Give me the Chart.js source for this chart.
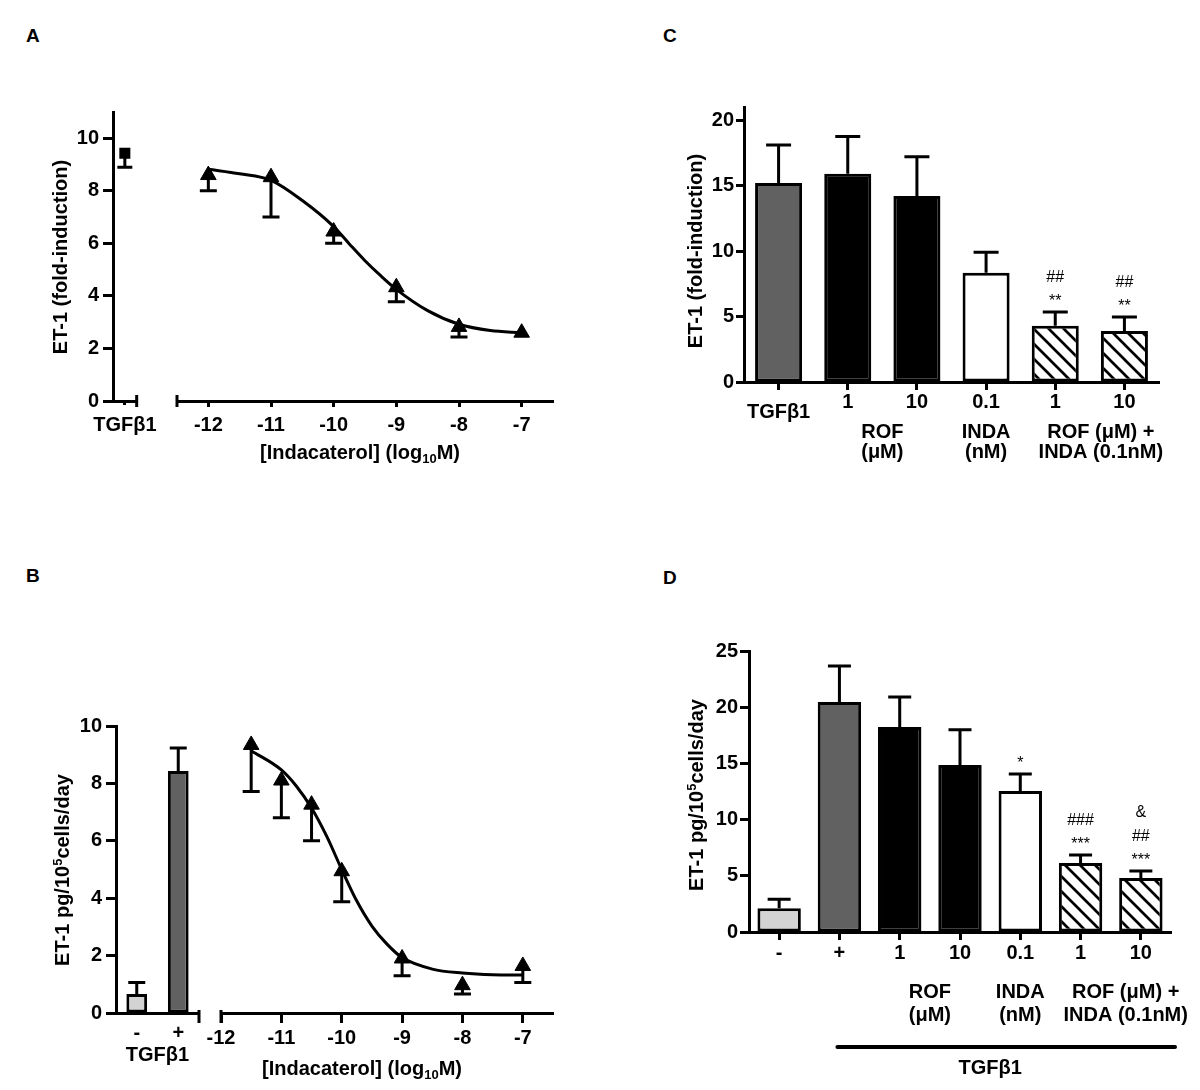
<!DOCTYPE html>
<html><head><meta charset="utf-8">
<script src="https://cdn.jsdelivr.net/npm/chart.js@4.4.1/dist/chart.umd.min.js"></script>
<style>
html,body{margin:0;padding:0;background:#fff;}
#page{position:relative;width:1200px;height:1090px;overflow:hidden;background:#fff;}
.cv{position:absolute;}
.lbl{position:absolute;font:bold 19px "Liberation Sans",Arial,sans-serif;color:#000;line-height:19px;}
</style></head><body>
<div id="page">
  <div class="lbl" style="left:26px;top:26px">A</div>
  <div class="lbl" style="left:663px;top:26px">C</div>
  <div class="lbl" style="left:26px;top:566px">B</div>
  <div class="lbl" style="left:663px;top:568px">D</div>
  <div class="cv" style="left:0px;top:0px;width:175px;height:480px"><canvas id="a1"></canvas></div>
  <div class="cv" style="left:170px;top:0px;width:420px;height:480px"><canvas id="a2"></canvas></div>
  <div class="cv" style="left:0px;top:600px;width:215px;height:490px"><canvas id="b1"></canvas></div>
  <div class="cv" style="left:200px;top:600px;width:400px;height:490px"><canvas id="b2"></canvas></div>
  <div class="cv" style="left:600px;top:0px;width:600px;height:480px"><canvas id="c1"></canvas></div>
  <div class="cv" style="left:600px;top:580px;width:600px;height:510px"><canvas id="d1"></canvas></div>
</div>
<script>
// ---------- Panel A ----------
const aCtrlLabels = ['TGFβ1'];
const aCtrlMean = [9.43];
const aCtrlSem = [0.53];
const aDose = [-12, -11, -10, -9, -8, -7];
const aMean = [8.6, 8.52, 6.45, 4.33, 2.82, 2.6];
const aSem = [0.6, 1.52, 0.45, 0.55, 0.38, 0];
const aFitX = [-12, -11.5, -11, -10.5, -10, -9.75, -9.5, -9.25, -9, -8.5, -8, -7.5, -7];
const aFitY = [8.82, 8.65, 8.4, 7.63, 6.64, 5.98, 5.34, 4.77, 4.25, 3.44, 2.92, 2.68, 2.6];
const aYTicks = [0, 2, 4, 6, 8, 10];
const aXTicks = [-12, -11, -10, -9, -8, -7];
// ---------- Panel B ----------
const bCtrlLabels = ['-', '+'];
const bCtrlMean = [0.66, 8.43];
const bCtrlSem = [0.4, 0.8];
const bDose = [-11.5, -11, -10.5, -10, -9, -8, -7];
const bMean = [9.34, 8.1, 7.26, 4.94, 1.9, 0.97, 1.64];
const bSem = [1.62, 1.3, 1.26, 1.06, 0.6, 0.31, 0.58];
const bFitX = [-11.5, -11, -10.75, -10.5, -10.25, -10, -9.75, -9.5, -9.25, -9, -8.5, -8, -7.5, -7];
const bFitY = [9.14, 8.47, 7.9, 7.14, 6.16, 5.0, 3.9, 3.03, 2.4, 1.93, 1.53, 1.39, 1.33, 1.32];
const bYTicks = [0, 2, 4, 6, 8, 10];
const bXTicks = [-12, -11, -10, -9, -8, -7];
// ---------- Panel C ----------
const cLabels = ['TGFβ1', '1', '10', '0.1', '1', '10'];
const cMean = [15.2, 15.9, 14.2, 8.35, 4.3, 3.9];
const cSem = [2.9, 2.85, 3.0, 1.55, 1.05, 1.07];
const cSig = [[], [], [], [], ['**', '##'], ['**', '##']];
const cGroupText = [['ROF', '(μM)'], ['INDA', '(nM)'], ['ROF (μM) +', 'INDA (0.1nM)']];
const cGroupCats = [[1, 2], [3, 3], [4, 5]];
const cYTicks = [0, 5, 10, 15, 20];
// ---------- Panel D ----------
const dLabels = ['-', '+', '1', '10', '0.1', '1', '10'];
const dMean = [2.12, 20.46, 18.24, 14.85, 12.55, 6.14, 4.8];
const dSem = [0.8, 3.2, 2.66, 3.15, 1.5, 0.72, 0.63];
const dSig = [[], [], [], [], ['*'], ['***', '###'], ['***', '##', '&']];
const dGroupText = [['ROF', '(μM)'], ['INDA', '(nM)'], ['ROF (μM) +', 'INDA (0.1nM)']];
const dGroupCats = [[2, 3], [4, 4], [5, 6]];
const dBracketText = 'TGFβ1';
const dBracketCats = [1, 6];
const dYTicks = [0, 5, 10, 15, 20, 25];

// ---------- styles ----------
const FAM = '"Liberation Sans", Arial, Helvetica, sans-serif';
const LIGHT = '#d3d3d3', DARK = '#616161', BLACK = '#000000', WHITE = '#ffffff';
Chart.defaults.font.family = FAM;
Chart.defaults.font.size = 20;
Chart.defaults.font.weight = 'bold';
Chart.defaults.color = '#000';

function hatch() {
  const s = 15, c = document.createElement('canvas');
  c.width = s; c.height = s;
  const g = c.getContext('2d');
  g.fillStyle = '#fff'; g.fillRect(0, 0, s, s);
  g.strokeStyle = '#000'; g.lineWidth = 2.7;
  g.beginPath();
  g.moveTo(-3, -3); g.lineTo(s + 3, s + 3);
  g.moveTo(-3, s - 3); g.lineTo(3, s + 3);
  g.moveTo(s - 3, -3); g.lineTo(s + 3, 3);
  g.stroke();
  return g.createPattern(c, 'repeat');
}
const HATCH = hatch();

function base(t, r, l) {
  return {
    responsive: true, maintainAspectRatio: false, animation: false, devicePixelRatio: 1,
    events: [],
    layout: { autoPadding: false, padding: { top: t, right: r, left: l, bottom: 0 } },
    plugins: { legend: { display: false }, tooltip: { enabled: false } }
  };
}
function yScale(min, max, ticks, width, tickLen, pad, show) {
  return {
    type: 'linear', min, max, display: show,
    afterFit(s) { s.width = width; },
    afterBuildTicks(s) { s.ticks = ticks.map(v => ({ value: v })); },
    ticks: { padding: pad, callback: v => String(v), font: { size: 20, weight: 'bold' }, color: '#000' },
    grid: { display: true, drawOnChartArea: false, drawTicks: true, tickLength: tickLen, tickWidth: 3, tickColor: '#000' },
    border: { display: true, width: 3, color: '#000' }
  };
}
function xCat(height, tickLen, pad, drawTicks, cb) {
  return {
    type: 'category', offset: true,
    afterFit(s) { s.height = height; },
    ticks: { padding: pad, autoSkip: false, maxRotation: 0, minRotation: 0,
      callback: cb || function (v) { return this.getLabelForValue(v); },
      font: { size: 20, weight: 'bold' }, color: '#000' },
    grid: { display: true, offset: false, drawOnChartArea: false, drawTicks, tickLength: tickLen, tickWidth: 3, tickColor: '#000' },
    border: { display: true, width: 3, color: '#000' }
  };
}
function xLin(min, max, ticks, height, tickLen, pad) {
  return {
    type: 'linear', min, max,
    afterFit(s) { s.height = height; },
    afterBuildTicks(s) { s.ticks = ticks.map(v => ({ value: v })); },
    ticks: { padding: pad, autoSkip: false, maxRotation: 0, minRotation: 0, callback: v => String(v),
      font: { size: 20, weight: 'bold' }, color: '#000' },
    grid: { display: true, drawOnChartArea: false, drawTicks: true, tickLength: tickLen, tickWidth: 3, tickColor: '#000' },
    border: { display: true, width: 3, color: '#000' }
  };
}
function errBars(chart, di, errs, dir, cap) {
  const meta = chart.getDatasetMeta(di), ys = chart.scales.y, ctx = chart.ctx;
  ctx.save(); ctx.strokeStyle = '#000'; ctx.lineWidth = 3; ctx.lineCap = 'butt';
  meta.data.forEach((el, i) => {
    const e = errs[i]; if (!e) return;
    const v = meta.controller.getParsed(i).y;
    const y0 = ys.getPixelForValue(v), y1 = ys.getPixelForValue(v + dir * e);
    ctx.beginPath();
    ctx.moveTo(el.x, y0); ctx.lineTo(el.x, y1);
    ctx.moveTo(el.x - cap / 2, y1); ctx.lineTo(el.x + cap / 2, y1);
    ctx.stroke();
  });
  ctx.restore();
}
function axisCap(chart, side, up, down) {
  const a = chart.chartArea, ctx = chart.ctx, x = side === 'left' ? a.left : a.right;
  ctx.save(); ctx.strokeStyle = '#000'; ctx.lineWidth = 3;
  ctx.beginPath(); ctx.moveTo(x, a.bottom - up); ctx.lineTo(x, a.bottom + down); ctx.stroke();
  ctx.restore();
}
// rich text: parts [[text, mode]] mode 0 normal, 1 superscript, -1 subscript; (x,y) = visual centre
function richText(ctx, parts, x, y, rot, size) {
  ctx.save();
  ctx.translate(x, y); if (rot) ctx.rotate(rot);
  ctx.fillStyle = '#000'; ctx.textBaseline = 'alphabetic'; ctx.textAlign = 'left';
  const fonts = parts.map(p => 'bold ' + (p[1] ? Math.round(size * 0.66) : size) + 'px ' + FAM);
  let total = 0;
  const ws = parts.map((p, i) => { ctx.font = fonts[i]; const w = ctx.measureText(p[0]).width; total += w; return w; });
  let cx = -total / 2;
  const b = size * 0.36;
  parts.forEach((p, i) => {
    ctx.font = fonts[i];
    const dy = p[1] === 1 ? -size * 0.38 : p[1] === -1 ? size * 0.2 : 0;
    ctx.fillText(p[0], cx, b + dy); cx += ws[i];
  });
  ctx.restore();
}
function centerText(ctx, t, x, y, font) {
  ctx.save(); ctx.fillStyle = '#000'; ctx.font = font || ('bold 20px ' + FAM);
  ctx.textAlign = 'center'; ctx.textBaseline = 'middle'; ctx.fillText(t, x, y); ctx.restore();
}
function sigMarks(chart, means, sems, sig) {
  const xs = chart.scales.x, ys = chart.scales.y, ctx = chart.ctx;
  ctx.save(); ctx.fillStyle = '#000'; ctx.font = '16px ' + FAM; ctx.textAlign = 'center'; ctx.textBaseline = 'alphabetic';
  sig.forEach((lines, i) => {
    const x = xs.getPixelForValue(i), capY = ys.getPixelForValue(means[i] + sems[i]);
    lines.forEach((t, k) => ctx.fillText(t, x, capY - 6 - 24 * k));
  });
  ctx.restore();
}
function groupLabels(chart, texts, cats, dy1, dy2, nudges) {
  const xs = chart.scales.x, b = chart.chartArea.bottom;
  texts.forEach((lines, i) => {
    const x = (xs.getPixelForValue(cats[i][0]) + xs.getPixelForValue(cats[i][1])) / 2 + nudges[i];
    centerText(chart.ctx, lines[0], x, b + dy1);
    centerText(chart.ctx, lines[1], x, b + dy2);
  });
}
const el = id => document.getElementById(id);
const TITLE_X = [['[Indacaterol] (log', 0], ['10', -1], ['M)', 0]];
const TITLE_Y1 = [['ET-1 (fold-induction)', 0]];
const TITLE_Y2 = [['ET-1 pg/10', 0], ['5', 1], ['cells/day', 0]];

// ---------- Panel A left ----------
new Chart(el('a1'), {
  type: 'line',
  data: { labels: aCtrlLabels, datasets: [{ data: aCtrlMean, showLine: false, pointStyle: 'rect', pointRadius: 7.8,
    pointBackgroundColor: BLACK, pointBorderColor: BLACK, pointBorderWidth: 0, clip: false }] },
  options: Object.assign(base(112, 21, 0), { scales: { y: yScale(0, 11, aYTicks, 113, 10, 4, true), x: xCat(79, 4, 8, true) } }),
  plugins: [{ id: 'a1d',
    afterDatasetsDraw(c) { errBars(c, 0, aCtrlSem, -1, 15); },
    afterDraw(c) { axisCap(c, 'right', 6, 6); richText(c.ctx, TITLE_Y1, 60, 257, -Math.PI / 2, 20); } }]
});
// ---------- Panel A right ----------
new Chart(el('a2'), {
  type: 'scatter',
  data: { datasets: [
    { data: aFitX.map((x, i) => ({ x, y: aFitY[i] })), showLine: true, borderColor: BLACK, borderWidth: 3,
      pointRadius: 0, cubicInterpolationMode: 'monotone', clip: false },
    { data: aDose.map((x, i) => ({ x, y: aMean[i] })), pointStyle: 'triangle', pointRadius: 9,
      pointBackgroundColor: BLACK, pointBorderColor: BLACK, pointBorderWidth: 1, clip: false }
  ] },
  options: Object.assign(base(112, 37, 7), { scales: { y: yScale(0, 11, aYTicks, 0, 10, 4, false), x: xLin(-12.5, -6.5, aXTicks, 79, 6, 6) } }),
  plugins: [{ id: 'a2d',
    afterDatasetsDraw(c) { errBars(c, 1, aSem, -1, 17); },
    afterDraw(c) { axisCap(c, 'left', 6, 6); richText(c.ctx, TITLE_X, 360 - 170, 452, 0, 20); } }]
});
// ---------- Panel B left ----------
new Chart(el('b1'), {
  type: 'bar',
  data: { labels: bCtrlLabels, datasets: [{ data: bCtrlMean, backgroundColor: [LIGHT, DARK], borderColor: BLACK,
    borderWidth: 3, borderSkipped: false, barPercentage: 0.5, categoryPercentage: 1 }] },
  options: Object.assign(base(126, 16, 0), { scales: { y: yScale(0, 10, bYTicks, 116, 10, 4, true), x: xCat(77, 0, 8, false) } }),
  plugins: [{ id: 'b1d',
    afterDatasetsDraw(c) { errBars(c, 0, bCtrlSem, 1, 17); },
    afterDraw(c) {
      axisCap(c, 'right', 3, 10);
      richText(c.ctx, TITLE_Y2, 62, 870 - 600, -Math.PI / 2, 20);
      centerText(c.ctx, 'TGFβ1', (c.chartArea.left + c.chartArea.right) / 2, c.chartArea.bottom + 42);
    } }]
});
// ---------- Panel B right ----------
new Chart(el('b2'), {
  type: 'scatter',
  data: { datasets: [
    { data: bFitX.map((x, i) => ({ x, y: bFitY[i] })), showLine: true, borderColor: BLACK, borderWidth: 3,
      pointRadius: 0, cubicInterpolationMode: 'monotone', clip: false },
    { data: bDose.map((x, i) => ({ x, y: bMean[i] })), pointStyle: 'triangle', pointRadius: 9,
      pointBackgroundColor: BLACK, pointBorderColor: BLACK, pointBorderWidth: 1, clip: false }
  ] },
  options: Object.assign(base(126, 47, 21), { scales: { y: yScale(0, 10, bYTicks, 0, 10, 4, false), x: xLin(-12, -6.5, bXTicks, 77, 10, 3) } }),
  plugins: [{ id: 'b2d',
    afterDatasetsDraw(c) { errBars(c, 1, bSem, -1, 17); },
    afterDraw(c) { axisCap(c, 'left', 3, 10); richText(c.ctx, TITLE_X, 362 - 200, 1068 - 600, 0, 20); } }]
});
// ---------- Panel C ----------
new Chart(el('c1'), {
  type: 'bar',
  data: { labels: cLabels, datasets: [{ data: cMean, backgroundColor: [DARK, BLACK, BLACK, WHITE, HATCH, HATCH],
    borderColor: BLACK, borderWidth: 3, borderSkipped: false, barPercentage: 0.68, categoryPercentage: 1 }] },
  options: Object.assign(base(107, 41, 0), { scales: {
    y: yScale(0, 21, cYTicks, 144, 8, 2, true),
    x: xCat(98, 8, 0, true, function (v, i) { return i === 0 ? '' : this.getLabelForValue(v); }) } }),
  plugins: [{ id: 'c1d',
    afterDatasetsDraw(c) { errBars(c, 0, cSem, 1, 25); sigMarks(c, cMean, cSem, cSig); },
    afterDraw(c) {
      richText(c.ctx, TITLE_Y1, 695 - 600, 251, -Math.PI / 2, 20);
      centerText(c.ctx, cLabels[0], c.scales.x.getPixelForValue(0), c.chartArea.bottom + 30);
      groupLabels(c, cGroupText, cGroupCats, 50, 70, [0, 0, 11]);
    } }]
});
// ---------- Panel D ----------
new Chart(el('d1'), {
  type: 'bar',
  data: { labels: dLabels, datasets: [{ data: dMean, backgroundColor: [LIGHT, DARK, BLACK, BLACK, WHITE, HATCH, HATCH],
    borderColor: BLACK, borderWidth: 3, borderSkipped: false, barPercentage: 0.72, categoryPercentage: 1 }] },
  options: Object.assign(base(71, 29, 0), { scales: {
    y: yScale(0, 25, dYTicks, 149, 9, 2, true),
    x: xCat(158, 8, 1, true) } }),
  plugins: [{ id: 'd1d',
    afterDatasetsDraw(c) { errBars(c, 0, dSem, 1, 23); sigMarks(c, dMean, dSem, dSig); },
    afterDraw(c) {
      const xs = c.scales.x, a = c.chartArea, ctx = c.ctx;
      richText(ctx, TITLE_Y2, 696 - 600, 795 - 580, -Math.PI / 2, 20);
      groupLabels(c, dGroupText, dGroupCats, 60, 83, [0, 0, 15]);
      const x0 = xs.getPixelForValue(dBracketCats[0]) - 2, x1 = a.right + 4, yb = a.bottom + 115;
      ctx.save(); ctx.strokeStyle = '#000'; ctx.lineWidth = 4; ctx.lineCap = 'round';
      ctx.beginPath(); ctx.moveTo(x0, yb); ctx.lineTo(x1, yb); ctx.stroke(); ctx.restore();
      centerText(ctx, dBracketText, (xs.getPixelForValue(dBracketCats[0]) + xs.getPixelForValue(dBracketCats[1])) / 2, a.bottom + 136);
    } }]
});
</script>
</body></html>
